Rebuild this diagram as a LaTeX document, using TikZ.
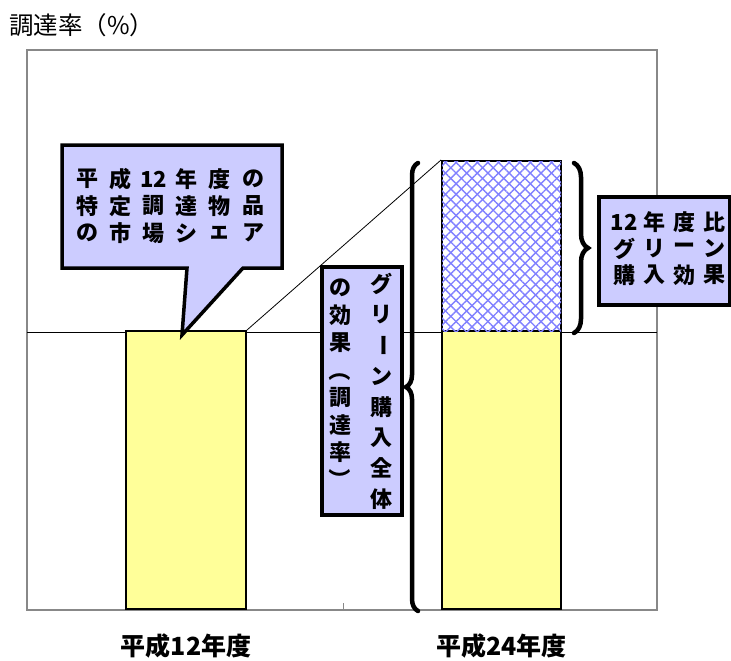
\documentclass[tikz,border=0pt]{standalone}
\usepackage{fontspec}
\newfontfamily\jp{Noto Sans CJK JP}
\usetikzlibrary{positioning, decorations.pathreplacing, patterns.meta}

\definecolor{lemon}{HTML}{FFFF99}
\definecolor{lilac}{HTML}{CCCCFF}
\definecolor{framegray}{HTML}{888888}
\newcommand{\vlong}{\rotatebox[origin=c]{-90}{ー}}
\newcommand{\vopen}{\rotatebox[origin=c]{-90}{（}}
\newcommand{\vclose}{\rotatebox[origin=c]{-90}{）}}

\begin{document}
\begin{tikzpicture}[x=1pt, y=-1pt,
				bar/.style={draw=black, line width=2pt, fill=lemon, inner sep=0pt},
				gain/.style={draw=black, line width=2pt, fill=white, inner sep=0pt,
					postaction={pattern={Lines[angle=45, distance=7.5pt, line width=1.4pt]}, pattern color=blue!50},
					postaction={pattern={Lines[angle=-45, distance=7.5pt, line width=1.4pt]}, pattern color=blue!50}},
				tag/.style={draw=black, line width=3.5pt, fill=lilac, inner sep=0pt},
				jchar/.style={font=\jp\bfseries\fontsize{22}{22}\selectfont, inner sep=0pt},
				year/.style={font=\jp\bfseries\fontsize{25}{25}\selectfont, inner sep=0pt},
				curly/.style={line width=4.5pt, line cap=round}
				]
				\useasboundingbox (0,0) rectangle (731,661);
				% axis frame
				\draw[framegray, line width=2.5pt] (27,50) rectangle (657,610);
				\draw[framegray, line width=1pt] (343,610) -- (343,603);
				\node[anchor=west, inner sep=0pt, font=\jp\fontsize{24.5}{24.5}\selectfont] (unit) at (9,25) {調達率（\%）};
				\draw[line width=0.8pt] (27,332) -- (657,332);
				% bars
				\node[bar, minimum width=120pt, minimum height=278pt, anchor=south west] (bar12) at (125,610) {};
				\node[bar, minimum width=119pt, minimum height=278pt, anchor=south west] (bar24) at (441,610) {};
				\node[gain, minimum width=119pt, minimum height=170pt, anchor=south west] (gain24) at (441,332) {};
				\draw[line width=0.8pt] (bar12.north east) -- (gain24.north west);
				\node[year, below=23pt of bar12] (y12) {平成12年度};
				\node[year, below=23pt of bar24] (y24) {平成24年度};
				% braces
				\coordinate (bigbot) at (418,611);
				\coordinate (bigtop) at (418,163);
				\draw[curly, decorate, decoration={brace, amplitude=12pt}] (bigbot) -- (bigtop);
				\coordinate (smalltop) at (574,163);
				\coordinate (smallbot) at (574,333);
				\draw[curly, decorate, decoration={brace, amplitude=14pt}] (smalltop) -- (smallbot);
				% callout
				\coordinate (tip) at (182,335);
				\draw[tag, line join=miter] (62,145) -- (282,145) -- (282,268) -- (243,268) -- (tip) -- (187,268) -- (62,268) -- cycle;
				\foreach \row [count=\r] in {{平,成,12,年,度,の},{特,定,調,達,物,品},{の,市,場,シ,ェ,ア}}
					\foreach \c [count=\k] in \row
						\node[jchar] (s\r\k) at (87+33.2*\k-33.2, 179+27*\r-27) {\c};
				% whole effect box
				\node[tag, minimum width=80pt, minimum height=248pt, anchor=north west] (whole) at (320,265) {};
				\foreach \c [count=\i] in {グ,リ,\vlong,ン,購,入,全,体}
					\node[jchar] (r\i) at (381, 284+30.7*\i-30.7) {\c};
				\foreach \c [count=\i] in {の,効,果,\vopen,調,達,率,\vclose}
					\node[jchar] (l\i) at (340, 288+27.4*\i-27.4) {\c};
				% effect since 12
				\node[tag, minimum width=131pt, minimum height=108pt, anchor=north west] (since) at (597,195) {};
				\foreach \row [count=\r] in {{12,年,度,比},{グ,リ,ー,ン},{購,入,効,果}}
					\foreach \c [count=\k] in \row
						\node[jchar] (e\r\k) at (624+30*\k-30, 222+26.5*\r-26.5) {\c};
			\end{tikzpicture}
\end{document}
